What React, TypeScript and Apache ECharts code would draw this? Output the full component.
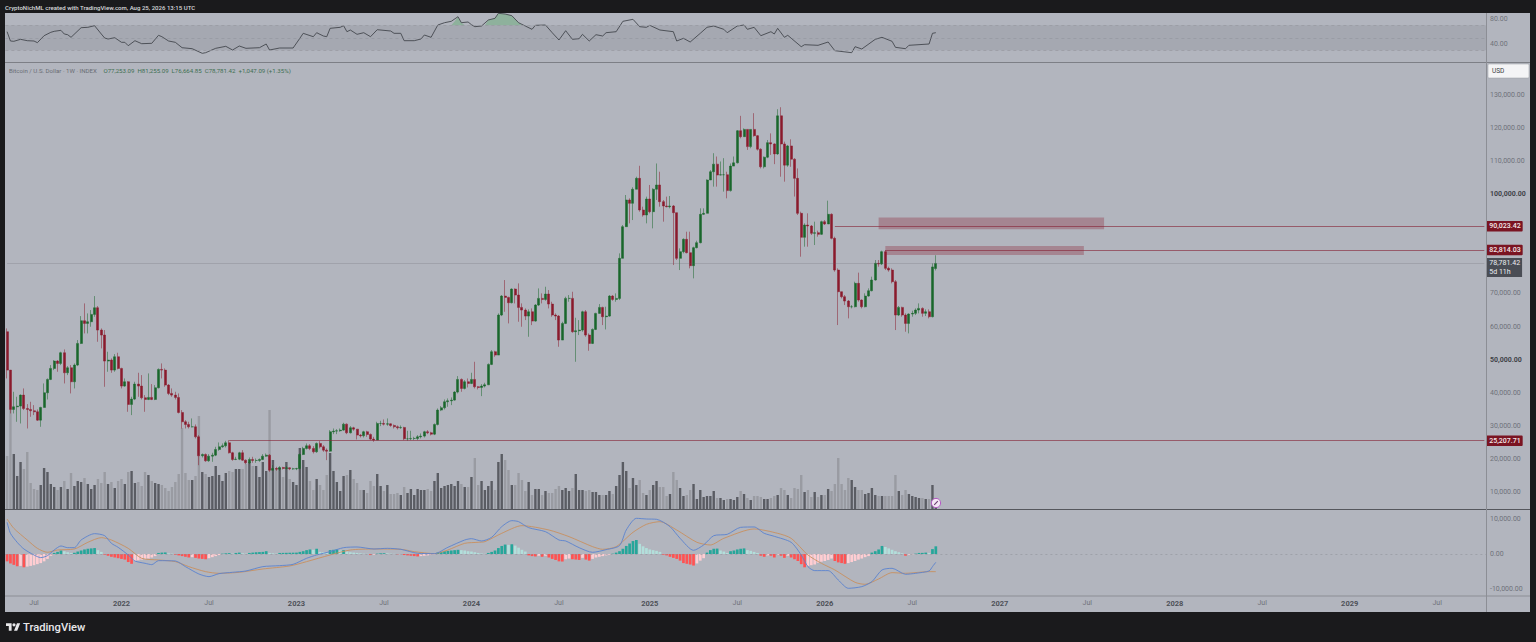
import React, { useEffect, useRef } from "react";
import * as echarts from "echarts";

// Weekly closes, highs and lows, USD thousands
const firstOpen = 58.14;
const lastOpen = 77.253;
const closes = [
  46.54,34.65,35.46,35.66,38.98,34.95,34.65,34.25,33.94,31.42,
  35.25,39.69,43.72,47.05,49.27,48.56,51.79,45.74,47.25,43.02,
  48.06,54.61,61.46,60.66,61.16,63.38,65.39,58.64,57.13,49.27,
  49.57,46.54,50.58,47.05,41.71,43.02,36.16,37.77,42.31,41.71,
  38.18,37.67,38.28,37.67,41.20,46.75,46.54,42.01,39.49,38.98,
  38.28,33.74,30.92,30.11,29.41,29.41,26.38,20.64,21.04,19.13,
  20.54,20.84,22.55,23.36,23.66,24.57,21.55,19.53,19.63,21.55,
  19.33,18.52,19.53,19.23,19.23,19.53,20.54,20.84,16.30,16.81,
  16.61,17.11,16.81,17.01,16.71,16.71,16.81,21.04,22.86,23.66,
  22.86,21.85,24.37,23.36,22.35,22.05,27.90,28.10,28.20,28.40,
  30.21,27.59,29.11,28.70,26.89,26.69,27.90,27.09,25.68,25.38,
  30.41,30.41,30.21,30.31,29.81,29.41,29.11,29.21,25.78,25.78,
  25.88,25.88,26.38,26.59,27.90,27.59,27.19,30.11,34.45,35.15,
  36.97,37.27,37.47,39.89,43.72,41.00,43.02,42.51,43.72,41.50,
  41.30,41.71,42.11,48.26,52.09,51.08,63.18,68.92,68.52,66.91,
  71.04,69.22,65.49,64.69,62.87,64.18,61.36,66.20,68.22,67.91,
  69.53,66.50,63.18,62.87,55.62,60.66,68.22,68.22,58.14,58.44,
  58.64,64.18,57.13,54.61,58.84,63.68,65.49,62.67,62.87,68.92,
  67.91,68.22,80.32,89.90,97.96,96.95,101.2,104.5,94.94,93.42,
  98.26,94.43,101.2,102.5,97.46,96.15,95.94,96.15,94.13,80.32,
  82.34,86.07,82.03,78.10,83.55,85.06,93.63,93.93,104.0,106.5,
  108.8,105.5,105.6,105.6,100.8,108.2,109.2,118.9,117.1,119.3,
  114.1,119.3,117.4,113.3,108.0,110.9,115.3,114.9,111.9,123.4,
  114.9,108.5,114.3,110.3,104.5,93.93,86.67,90.40,90.10,87.88,
  88.08,87.58,91.41,90.70,93.63,86.37,76.79,70.24,68.73,67.42,
  65.70,65.70,72.76,67.72,65.70,68.93,70.54,73.77,78.81,78.61,
  82.34,77.30,76.79,73.26,63.18,65.50,63.18,60.66,63.49,63.69,
  64.70,65.20,63.69,64.19,62.68,77.734,78.781,
];
const highs = [
  59.14,46.54,39.99,38.48,39.18,41.00,36.26,36.97,35.96,34.65,
  35.46,42.51,44.02,48.06,49.57,49.57,52.09,52.79,47.75,48.06,
  48.56,55.62,62.87,66.70,63.68,64.69,68.92,65.90,59.14,58.64,
  52.09,50.07,51.38,51.79,47.25,44.02,43.22,38.48,43.02,45.74,
  45.03,38.98,45.54,42.31,42.01,47.05,48.56,47.05,42.31,41.00,
  39.99,39.49,34.45,31.42,30.92,31.93,30.11,26.89,21.34,21.34,
  21.14,21.55,23.36,24.67,24.37,25.17,25.38,21.85,20.34,21.85,
  22.35,19.53,20.13,20.34,19.83,19.83,21.14,21.34,21.14,17.82,
  17.31,17.51,17.31,17.51,17.11,17.01,17.01,21.34,23.36,24.37,
  24.17,23.56,24.67,25.07,23.86,22.86,28.40,28.90,28.70,28.90,
  30.62,30.41,29.61,29.41,28.60,27.19,28.20,28.20,27.39,26.38,
  30.92,31.22,31.63,31.93,30.41,30.11,29.81,29.81,29.41,28.20,
  28.20,26.38,26.89,27.39,28.20,28.40,27.90,30.41,34.95,35.66,
  37.67,37.98,38.28,40.19,44.73,44.02,43.52,44.02,45.74,49.06,
  41.71,42.31,42.71,48.56,52.59,52.39,63.68,69.22,73.76,68.72,
  71.24,71.24,72.75,66.70,65.19,64.89,65.19,66.50,71.24,69.73,
  71.74,70.74,67.21,63.68,63.18,61.16,68.72,69.22,70.23,62.37,
  61.66,64.49,64.69,57.63,59.14,63.88,66.50,65.70,65.70,69.22,
  69.22,69.73,81.83,90.40,99.47,98.46,101.8,105.0,108.3,95.94,
  98.97,102.5,101.5,109.0,106.5,97.96,98.97,99.17,96.45,94.13,
  83.34,86.37,88.38,88.38,83.85,85.66,95.44,95.44,104.2,107.0,
  112.1,111.1,109.6,110.6,106.5,109.0,111.1,119.1,123.4,119.6,
  119.3,119.3,124.2,117.6,113.6,111.1,116.1,118.1,115.1,125.4,
  126.0,115.6,114.6,116.3,110.6,107.5,94.43,90.90,93.93,90.40,
  91.41,88.69,91.71,91.91,97.76,93.93,86.87,77.30,70.24,69.23,
  67.72,66.21,73.26,76.00,67.92,69.74,71.25,74.78,79.82,79.82,
  82.64,82.84,77.80,77.30,73.77,65.91,65.70,63.69,63.69,64.49,
  65.20,66.71,65.50,64.90,64.90,78.80,81.255,
];
const lows = [
  44.02,33.44,33.44,30.92,30.41,34.45,28.90,32.43,32.94,31.22,
  29.41,35.25,37.67,43.52,46.54,46.04,48.06,42.51,45.03,39.49,
  41.00,47.75,54.41,57.63,57.63,59.65,62.67,55.11,53.10,41.50,
  46.04,45.74,46.04,46.75,41.00,41.50,33.94,32.94,37.47,38.48,
  37.67,33.94,37.47,37.47,37.47,41.00,44.02,41.50,38.98,38.48,
  37.67,33.44,28.90,28.90,28.90,29.21,25.88,17.80,20.13,18.82,
  18.82,18.82,20.54,22.15,23.06,23.16,21.34,19.13,19.33,19.33,
  19.13,18.12,18.12,18.52,18.52,18.82,19.33,20.34,15.80,16.30,
  16.10,16.10,16.51,16.51,16.30,16.40,16.30,16.51,20.84,22.55,
  22.35,21.34,21.55,22.86,21.85,19.33,21.85,27.19,27.19,27.90,
  28.20,27.19,27.39,28.20,25.58,26.18,26.18,26.38,25.38,24.87,
  25.38,29.61,29.81,29.71,29.41,28.90,28.60,28.80,25.38,25.17,
  25.38,25.38,25.38,25.88,26.18,27.19,26.79,26.89,29.81,34.15,
  34.65,35.46,35.96,37.27,39.49,39.99,40.70,41.30,42.31,41.00,
  40.70,38.68,41.30,42.01,48.06,50.58,51.08,62.87,64.18,60.66,
  66.70,66.70,61.16,59.65,61.66,56.62,60.15,61.16,65.90,66.70,
  67.51,65.19,62.67,61.66,53.60,55.62,60.45,67.21,57.83,49.06,
  57.13,58.14,56.62,52.39,54.41,58.64,63.68,60.15,58.84,62.67,
  67.51,67.21,67.72,80.32,90.90,90.90,91.90,101.2,94.43,92.92,
  90.90,93.93,89.39,97.96,95.94,91.41,95.74,95.44,78.30,79.82,
  76.79,81.83,81.83,77.30,74.27,83.34,84.85,93.42,93.93,104.0,
  102.0,102.0,105.4,100.5,98.46,100.5,108.2,109.0,116.6,117.1,
  113.1,113.6,117.1,112.9,107.5,107.5,110.6,111.6,108.8,111.6,
  105.0,103.5,108.0,108.0,99.00,93.42,80.82,83.85,83.85,87.38,
  84.35,86.87,87.38,90.40,90.70,86.07,76.29,60.16,68.22,66.21,
  62.18,65.20,65.50,67.22,65.20,65.50,68.73,70.34,73.57,77.80,
  78.30,76.79,76.29,72.76,58.65,62.88,62.68,58.14,57.64,62.68,
  63.18,63.69,62.68,62.88,62.18,62.48,76.664,
];
const volumes = [
  53,99,55,33,47,40,57,26,20,19,
  24,41,37,25,22,19,22,28,20,36,
  23,28,27,31,25,20,24,30,26,37,
  25,27,21,28,30,25,37,38,26,27,
  23,37,34,28,26,25,24,21,18,22,
  27,35,81,36,29,29,33,93,37,35,
  32,33,43,34,28,36,38,37,40,40,
  40,45,47,43,43,32,47,38,99,49,
  41,41,32,47,30,27,24,61,49,42,
  28,19,30,24,19,34,56,38,27,18,
  33,34,39,30,26,19,19,16,28,23,
  35,23,18,24,15,15,16,14,22,16,
  20,14,20,19,19,20,18,28,36,21,
  23,24,25,23,28,25,22,22,32,51,
  24,28,19,23,28,19,47,55,49,39,
  24,24,36,29,18,27,14,20,20,14,
  18,16,16,20,23,19,21,18,21,35,
  19,19,18,19,17,17,14,14,14,18,
  15,23,34,47,38,21,31,24,29,16,
  14,19,24,28,22,22,13,15,37,29,
  21,13,14,19,25,10,19,12,13,13,
  18,11,11,9,10,10,9,12,18,15,
  11,9,13,13,12,10,10,11,13,14,
  21,19,14,11,21,20,34,17,19,12,
  17,12,14,14,20,18,25,51,25,19,
  31,29,22,19,19,15,16,21,14,13,
  13,13,13,13,34,18,14,19,15,13,
  12,11,11,10,10,24,11,
];

// RSI vertices: week index and value
const rsiWeeks = [0,1,2,4,6,8,9,11,13,14,16,17,18,19,22,24,26,28,29,30,32,34,35,36,38,40,43,45,46,48,50,52,55,58,59,62,65,67,69,71,75,77,78,81,85,87,88,91,92,94,95,96,99,100,101,102,104,106,108,110,114,115,117,118,121,123,124,126,128,130,132,134,135,137,138,139,141,143,145,146,148,150,152,154,156,157,160,162,164,166,168,170,171,173,175,177,178,181,183,186,188,190,191,194,198,199,201,203,206,208,210,213,214,217,219,220,222,224,227,228,229,231,232,236,237,241,244,246,251,252,254,258,260,263,264,267,268,274,275,276];
const rsiValues = [59.7,44.8,44.3,47.5,45.3,44.8,42.1,53.3,58.7,60.3,61.9,56.0,54.9,50.7,66.1,66.7,69.3,56.0,49.6,48.0,50.1,42.7,42.7,37.3,45.3,40.5,41.1,53.9,51.7,44.8,42.7,34.1,32.5,25.1,26.1,33.1,36.3,30.4,36.8,33.1,34.1,40.0,30.4,33.6,33.6,49.1,57.1,51.7,58.1,52.8,51.7,65.1,66.7,69.3,59.7,62.4,55.5,58.1,51.7,62.9,60.8,57.1,57.1,45.3,45.3,48.0,54.4,50.7,70.4,74.1,76.3,83.7,74.1,75.2,70.9,67.7,68.8,78.4,81.1,89.1,88.0,85.3,74.1,68.8,63.5,69.9,70.4,58.1,46.4,61.3,47.5,48.5,55.5,44.8,54.9,52.8,58.1,59.7,76.3,79.5,67.7,66.7,69.9,62.4,59.7,44.8,49.1,43.2,57.1,66.7,68.8,63.5,58.1,68.8,70.4,63.5,66.7,53.3,59.7,56.0,65.1,50.7,53.9,35.7,38.9,37.9,43.2,29.3,26.1,35.7,32.0,47.5,50.7,44.3,34.7,32.5,37.9,40.0,57.1,58.1];
const rsiHotWeeksA = [132,133,134,135,136];
const rsiHotValuesA = [70,76,83.7,74.1,70];
const rsiHotWeeksB = [142,143,145,146,148,150,152,153];
const rsiHotValuesB = [70,78.4,81.1,89.1,88.0,85.3,74.1,70];

// MACD, USD thousands
const macdWeeks = [0,1,3,5,8,10,12,14,16,18,20,22,26,29,31,33,36,38,41,43,45,50,53,57,60,63,67,71,76,81,85,89,92,96,100,104,109,113,117,122,127,131,136,138,141,144,147,150,152,155,160,164,166,170,174,178,182,184,187,190,193,197,200,204,207,210,214,218,222,225,228,233,236,238,240,244,247,250,254,257,260,263,267,270,274,275,276];
const macdValues = [9.05,5.91,3.34,1.43,-0.28,-1.04,-0.47,1.15,2.29,1.81,1.81,4.0,5.81,5.24,3.05,1.91,-0.28,-1.99,-2.66,-3.04,-1.9,-1.99,-3.61,-5.71,-6.47,-5.61,-5.23,-4.85,-3.61,-3.33,-2.95,-1.23,-0.28,0.67,1.81,2.0,1.43,1.62,1.34,0.2,0.1,1.91,4.0,4.38,3.72,4.77,7.81,9.53,9.24,7.53,6.38,4.0,3.72,1.81,0.48,1.24,2.39,6.86,10.19,10.0,9.91,7.81,4.48,1.05,2.58,5.24,5.62,7.62,7.72,5.91,5.05,3.34,-0.28,-3.61,-4.75,-4.75,-7.42,-9.8,-9.32,-7.9,-4.56,-4.09,-5.8,-5.52,-4.85,-3.61,-2.37];
const signalWeeks = [0,2,6,9,12,15,20,24,28,31,36,40,45,50,54,59,63,69,76,84,89,96,102,109,117,121,127,131,136,140,142,147,153,161,167,174,177,181,186,190,194,199,205,209,213,222,229,233,238,242,246,252,255,259,263,267,274,276];
const signalValues = [10.0,7.34,4.0,1.62,0.48,1.15,1.43,3.34,4.67,4.0,1.62,-1.23,-1.71,-2.18,-3.61,-5.04,-5.52,-5.23,-4.28,-3.42,-2.18,-0.28,1.15,1.43,1.34,0.67,0.1,1.15,3.05,3.34,3.53,5.91,8.1,6.86,4.96,2.1,1.34,2.1,6.19,8.48,9.24,6.86,3.34,2.58,4.48,7.15,5.91,4.48,-0.28,-2.66,-4.56,-8.09,-8.66,-7.13,-5.33,-5.52,-5.04,-5.04];
const macdHist = [
  -2.1,-2.7,-3.1,-3.5,-3.4,-3.8,-3.6,-3.4,-3.2,-2.9,
  -2.6,-2.1,-1.4,-0.5,0.3,0.6,1.0,0.8,0.5,0.3,
  0.35,0.7,1.0,1.3,1.5,1.6,1.7,1.1,0.6,-0.2,
  -0.5,-0.8,-1.0,-1.2,-1.4,-1.6,-2.3,-2.8,-2.0,-1.8,
  -1.6,-1.5,-1.3,-1.0,-0.6,0.3,0.4,0.45,0.2,0.1,
  -0.2,-0.4,-0.6,-0.8,-1.0,-0.9,-1.1,-1.3,-1.4,-1.5,
  -1.2,-0.9,-0.6,-0.3,0.1,0.2,0.25,0.1,0.3,0.4,
  0.2,0.1,0.3,0.4,0.5,0.55,0.6,0.8,0.3,0.2,
  0.1,0.3,0.32,0.34,0.36,0.38,0.4,0.6,0.8,1.1,
  1.3,1.2,1.5,0.6,0.5,0.4,1.1,1.2,1.3,1.0,
  1.1,0.7,0.5,0.4,0.3,0.2,0.1,0.05,-0.3,-0.2,
  0.1,0.2,0.22,0.2,0.1,0.05,-0.1,-0.05,-0.3,-0.4,
  -0.5,-0.6,-0.7,-0.6,-0.5,-0.4,-0.3,-0.1,0.4,0.6,
  0.8,0.9,1.0,1.1,1.2,1.1,1.0,0.8,0.7,0.5,
  0.3,0.15,0.05,0.3,0.6,1.0,1.7,2.3,2.7,2.6,
  2.8,2.4,1.8,1.2,0.7,-0.4,-0.6,-0.7,-0.5,-0.8,
  -0.5,-1.0,-1.4,-1.7,-2.1,-2.15,-1.5,-1.3,-1.5,-1.6,
  -1.7,-1.1,-1.6,-1.9,-1.4,-1.0,-0.8,-0.6,-0.4,-0.2,
  0.1,0.4,0.8,1.5,2.3,3.0,3.7,4.0,2.9,2.2,
  1.7,1.3,1.1,0.9,0.6,-0.2,-0.4,-0.8,-1.1,-1.4,
  -1.9,-2.6,-2.8,-3.0,-3.3,-2.7,-1.9,-1.2,0.4,1.1,
  1.5,1.55,1.0,0.7,0.3,0.8,1.0,1.3,1.5,1.6,
  1.1,0.9,0.6,0.3,-0.5,-0.8,-0.4,-0.5,-1.0,-0.2,
  -0.5,-1.1,-0.5,-1.0,-1.5,-2.0,-2.9,-3.8,-3.4,-3.2,
  -3.0,-2.5,-2.2,-2.0,-1.7,-1.3,-2.0,-2.4,-2.6,-2.8,
  -2.6,-2.3,-2.0,-1.6,-1.3,-0.9,-0.6,0.4,0.8,1.3,
  2.3,2.0,1.6,1.2,0.8,0.5,0.2,-0.5,-0.2,-0.1,
  0.1,0.3,0.32,0.4,0.3,1.4,2.2,
];

// Time axis
const weekSlots = 440;
const timeTickWeeks = [8,34,60,86,112,138,164,191,217,243,269,295,321,347,373,399,425];
const timeTickLabels = ["Jul","2022","Jul","2023","Jul","2024","Jul","2025","Jul","2026","Jul","2027","Jul","2028","Jul","2029","Jul"];

// Price scale ticks and reference levels (90,000 and 80,000 sit under the level tags in the reference)
const priceTicks = [130000,120000,110000,100000,70000,60000,50000,40000,30000,20000,10000];
const strongPriceTicks = [100000,50000];
const levelUpper = { week: 246, price: 90023.42, text: "90,023.42" };
const levelLower = { week: 261, price: 82814.03, text: "82,814.03" };
const levelBottom = { week: 66, price: 25207.71, text: "25,207.71" };
const lastPrice = { price: 78781.42, text: "78,781.42", countdown: "5d 11h" };
const zoneUpper = { from: 259.2, to: 326, top: 92700, bottom: 89100 };
const zoneLower = { from: 261, to: 320, top: 84040, bottom: 81300 };

const PAPER = "#b2b5be";
const FONT = "Roboto, 'Liberation Sans', sans-serif";
const UP = "#19662b";
const DOWN = "#8a1a2c";
const LEVEL = "rgba(135,40,58,0.8)";
const fmt = (v: number) => v.toLocaleString("en-US", { minimumFractionDigits: 2, maximumFractionDigits: 2 });

const LOGO = "M14 22H7V11H0V4h14v18zM28 22h-8l7.5-18h8L28 22zM24 8a4 4 0 1 1-8 0a4 4 0 1 1 8 0z";
echarts.graphic.registerShape("tvlogo", echarts.graphic.extendPath(LOGO, {}) as any);

export default function App() {
  const ref = useRef<HTMLDivElement>(null);
  useEffect(() => {
    if (!ref.current) return;
    const chart = echarts.init(ref.current, undefined, { renderer: "svg" });

    const opens = closes.map((_, i) => (i === 0 ? firstOpen : i === closes.length - 1 ? lastOpen : closes[i - 1]));
    const candles = closes.map((c, i) => [opens[i] * 1000, c * 1000, lows[i] * 1000, highs[i] * 1000]);
    const categories = Array.from({ length: weekSlots }, (_, i) => {
      const k = timeTickWeeks.indexOf(i);
      return k >= 0 ? timeTickLabels[k] : "";
    });
    const volData = volumes.map((v, i) => ({
      value: v,
      itemStyle: { color: closes[i] >= opens[i] ? "#5a5c63" : "#999ba2" },
    }));
    const histData = macdHist.map((v, i) => {
      const prev = i > 0 ? macdHist[i - 1] : 0;
      const color = v >= 0 ? (v >= prev ? "#26a69a" : "#b2dfdb") : v <= prev ? "#ff5252" : "#ffcdd2";
      return { value: v * 1000, itemStyle: { color } };
    });
    const pairs = (w: number[], v: number[], k = 1) => w.map((x, i) => [x, v[i] * k]);

    const xBase = {
      type: "category",
      data: categories,
      boundaryGap: true,
      axisLine: { show: false },
      axisTick: { show: false },
      splitLine: { show: false },
    };
    const boxLabel = (text: string) => ({
      show: true,
      position: "end",
      distance: 2,
      formatter: text,
      color: "#f4e9ea",
      backgroundColor: "#7a1422",
      fontFamily: FONT,
      fontSize: 7,
      fontWeight: 500,
      padding: [2, 2, 1.5, 3],
      borderRadius: 1,
    });
    const level = (l: { week: number; price: number; text: string }) => [
      { coord: [l.week, l.price], label: boxLabel(l.text) },
      { coord: [weekSlots - 1, l.price] },
    ];

    chart.setOption({
      animation: false,
      backgroundColor: "#1a1a1c",
      grid: [
        { left: 5.4, width: 1480.6, top: 63, height: 446, containLabel: false },
        { left: 5.4, width: 1480.6, top: 13, height: 49, containLabel: false },
        { left: 5.4, width: 1480.6, top: 510, height: 86, containLabel: false },
      ],
      xAxis: [
        { ...xBase, gridIndex: 0, axisLabel: { show: false } },
        { ...xBase, gridIndex: 1, axisLabel: { show: false } },
        {
          ...xBase,
          gridIndex: 2,
          axisLabel: {
            show: true,
            interval: (i: number) => categories[i] !== "",
            hideOverlap: false,
            margin: 3,
            formatter: (v: string) => (v === "Jul" ? `{m|${v}}` : `{y|${v}}`),
            rich: {
              m: { color: "#6f727a", fontSize: 7, fontFamily: FONT },
              y: { color: "#4e5158", fontSize: 7.5, fontWeight: "bold", fontFamily: FONT },
            },
          },
        },
      ],
      yAxis: [
        {
          type: "value",
          gridIndex: 0,
          position: "right",
          min: 4558,
          max: 139370,
          splitLine: { show: false },
          axisLine: { show: false },
          axisTick: { show: false },
          axisLabel: {
            margin: 4,
            padding: [2, 0, 0, 0],
            customValues: priceTicks,
            formatter: (v: number) => (strongPriceTicks.includes(v) ? `{s|${fmt(v)}}` : `{n|${fmt(v)}}`),
            rich: {
              n: { color: "#6f727a", fontSize: 7, fontFamily: FONT },
              s: { color: "#3f4248", fontSize: 7, fontWeight: "bold", fontFamily: FONT },
            },
          },
        },
        { type: "value", gridIndex: 0, min: 0, max: 446, show: false, splitLine: { show: false } },
        {
          type: "value",
          gridIndex: 1,
          position: "right",
          min: 11.2,
          max: 89.6,
          splitLine: { show: false },
          axisLine: { show: false },
          axisTick: { show: false },
          axisLabel: {
            margin: 4,
            customValues: [80, 40],
            color: "#6f727a",
            fontSize: 7,
            fontFamily: FONT,
            formatter: (v: number) => v.toFixed(2),
          },
        },
        {
          type: "value",
          gridIndex: 2,
          position: "right",
          min: -12000,
          max: 12571,
          splitLine: { show: false },
          axisLine: { show: false },
          axisTick: { show: false },
          axisLabel: {
            margin: 4,
            padding: [2, 0, 0, 0],
            customValues: [10000, 0, -10000],
            color: "#6f727a",
            fontSize: 7,
            fontFamily: FONT,
            formatter: (v: number) => fmt(v),
          },
        },
      ],
      series: [
        {
          name: "Volume",
          type: "bar",
          xAxisIndex: 0,
          yAxisIndex: 1,
          barWidth: 2.4,
          data: volData,
          z: 1,
          silent: true,
        },
        {
          name: "BTCUSD",
          type: "candlestick",
          xAxisIndex: 0,
          yAxisIndex: 0,
          barWidth: 2.5,
          data: candles,
          z: 3,
          itemStyle: { color: UP, color0: DOWN, borderColor: UP, borderColor0: DOWN, borderWidth: 0.5 },
          markLine: {
            silent: true,
            symbol: "none",
            animation: false,
            lineStyle: { color: LEVEL, width: 0.8, type: "solid" },
            data: [
              level(levelUpper),
              level(levelLower),
              level(levelBottom),
              [
                {
                  coord: [0, lastPrice.price],
                  lineStyle: { color: "rgba(90,92,100,0.3)", width: 0.7 },
                  label: {
                    show: true,
                    position: "end",
                    distance: 2,
                    offset: [0, 4],
                    formatter: `${lastPrice.text}\n${lastPrice.countdown}`,
                    color: "#eceef2",
                    backgroundColor: "#4a4d55",
                    fontFamily: FONT,
                    fontSize: 7,
                    lineHeight: 8.5,
                    padding: [1, 2, 1, 3],
                  },
                },
                { coord: [weekSlots - 1, lastPrice.price] },
              ],
            ],
          },
          markArea: {
            silent: true,
            itemStyle: { color: "rgba(140,40,60,0.34)" },
            data: [
              [{ coord: [zoneUpper.from, zoneUpper.top] }, { coord: [zoneUpper.to, zoneUpper.bottom] }],
              [{ coord: [zoneLower.from, zoneLower.top] }, { coord: [zoneLower.to, zoneLower.bottom] }],
            ],
          },
        },
        {
          name: "RSI",
          type: "line",
          xAxisIndex: 1,
          yAxisIndex: 2,
          data: pairs(rsiWeeks, rsiValues),
          showSymbol: false,
          lineStyle: { color: "#44474e", width: 0.9 },
          z: 4,
          silent: true,
          markArea: {
            silent: true,
            itemStyle: { color: "rgba(80,82,92,0.13)" },
            data: [[{ yAxis: 70 }, { yAxis: 30 }]],
          },
          markLine: {
            silent: true,
            symbol: "none",
            label: { show: false },
            lineStyle: { color: "#96989f", width: 0.7, type: [3, 3] },
            data: [
              { yAxis: 70 },
              { yAxis: 50, lineStyle: { color: "rgba(130,132,140,0.55)", width: 0.6, type: [3, 3] } },
              { yAxis: 30 },
            ],
          },
        },
        {
          name: "RSI hot A",
          type: "line",
          xAxisIndex: 1,
          yAxisIndex: 2,
          data: pairs(rsiHotWeeksA, rsiHotValuesA),
          showSymbol: false,
          lineStyle: { width: 0 },
          areaStyle: { origin: 70, color: "rgba(70,170,90,0.48)" },
          z: 3,
          silent: true,
        },
        {
          name: "RSI hot B",
          type: "line",
          xAxisIndex: 1,
          yAxisIndex: 2,
          data: pairs(rsiHotWeeksB, rsiHotValuesB),
          showSymbol: false,
          lineStyle: { width: 0 },
          areaStyle: { origin: 70, color: "rgba(70,170,90,0.48)" },
          z: 3,
          silent: true,
        },
        {
          name: "Histogram",
          type: "bar",
          xAxisIndex: 2,
          yAxisIndex: 3,
          barWidth: 2.7,
          data: histData,
          z: 2,
          silent: true,
          markLine: {
            silent: true,
            symbol: "none",
            label: { show: false },
            lineStyle: { color: "#90939a", width: 0.6, type: [2, 3] },
            data: [{ yAxis: 0 }],
          },
        },
        {
          name: "MACD",
          type: "line",
          xAxisIndex: 2,
          yAxisIndex: 3,
          data: pairs(macdWeeks, macdValues, 1000),
          showSymbol: false,
          smooth: 0.25,
          lineStyle: { color: "#5a82cf", width: 0.9 },
          z: 4,
          silent: true,
        },
        {
          name: "Signal",
          type: "line",
          xAxisIndex: 2,
          yAxisIndex: 3,
          data: pairs(signalWeeks, signalValues, 1000),
          showSymbol: false,
          smooth: 0.25,
          lineStyle: { color: "#c8905f", width: 0.9 },
          z: 3,
          silent: true,
        },
      ],
      graphic: [
        { type: "rect", z: -1, silent: true, shape: { x: 5, y: 13, width: 1525, height: 599 }, style: { fill: PAPER } },
        { type: "line", z: 10, silent: true, shape: { x1: 5, y1: 62.5, x2: 1530, y2: 62.5 }, style: { stroke: "#7d7f86", lineWidth: 1 } },
        { type: "line", z: 10, silent: true, shape: { x1: 5, y1: 509.5, x2: 1530, y2: 509.5 }, style: { stroke: "#55575d", lineWidth: 1 } },
        { type: "line", z: 10, silent: true, shape: { x1: 5, y1: 596, x2: 1530, y2: 596 }, style: { stroke: "#8c8e95", lineWidth: 1 } },
        { type: "line", z: 10, silent: true, shape: { x1: 1486.5, y1: 13, x2: 1486.5, y2: 612 }, style: { stroke: "#8c8e95", lineWidth: 1 } },
        {
          type: "text", z: 20, silent: true, x: 5, y: 7,
          style: { text: "CryptoNichML created with TradingView.com, Aug 25, 2026 13:15 UTC", fill: "#d9dadd", font: `500 6.05px ${FONT}`, textVerticalAlign: "middle" },
        },
        {
          type: "text", z: 20, silent: true, x: 9, y: 70,
          style: {
            text: "{a|Bitcoin / U.S. Dollar · 1W · INDEX}  {b|O77,253.09  H81,255.09  L76,664.85  C78,781.42  +1,047.09 (+1.35%)}",
            rich: {
              a: { fill: "#6a6d75", fontSize: 6.1, fontFamily: FONT },
              b: { fill: "#3f6f52", fontSize: 6.1, fontFamily: FONT },
            },
            textVerticalAlign: "middle",
          },
        },
        { type: "rect", z: 20, silent: true, shape: { x: 1488, y: 64, width: 41, height: 14, r: 1 }, style: { fill: "#f4f4f6", stroke: "#9a9ca3", lineWidth: 0.5 } },
        {
          type: "text", z: 21, silent: true, x: 1492, y: 71,
          style: { text: "USD", fill: "#3a3c42", font: `6.5px ${FONT}`, textVerticalAlign: "middle" },
        },
        { type: "tvlogo", z: 20, silent: true, x: 6, y: 621.5, scaleX: 0.4, scaleY: 0.42, style: { fill: "#e8e8ea" } },
        {
          type: "text", z: 20, silent: true, x: 23, y: 627,
          style: { text: "TradingView", fill: "#e8e8ea", font: `500 11.2px ${FONT}`, textVerticalAlign: "middle" },
        },
        { type: "circle", z: 20, silent: true, shape: { cx: 936, cy: 503, r: 4.6 }, style: { fill: "#f4e6f4", stroke: "#b458c4", lineWidth: 1 } },
        { type: "line", z: 21, silent: true, shape: { x1: 934.2, y1: 504.8, x2: 937.8, y2: 501.2 }, style: { stroke: "#6a3a70", lineWidth: 1.1 } },
      ],
    });
    return () => chart.dispose();
  }, []);
  return <div ref={ref} style={{ position: "fixed", left: 0, top: 0, width: 1536, height: 642 }} />;
}
